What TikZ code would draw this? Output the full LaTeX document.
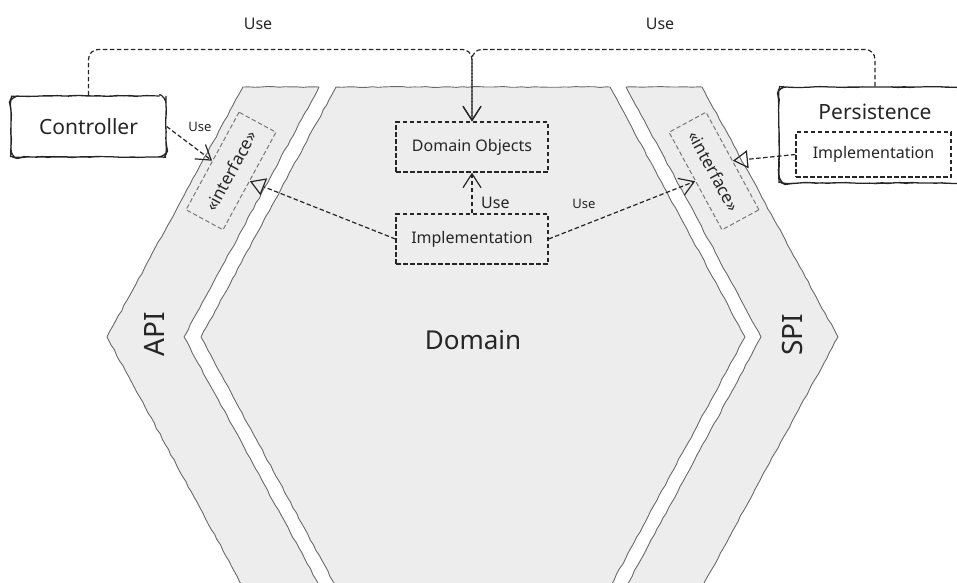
\documentclass[tikz,border=0pt]{standalone}
\usepackage{fontspec}
\setmainfont{Noto Sans}
\usetikzlibrary{arrows.meta,decorations.pathmorphing,calc}

\definecolor{bandfill}{HTML}{EDEDED}
\definecolor{bandline}{HTML}{6A6A6A}
\definecolor{ink}{HTML}{262626}
\definecolor{ifline}{HTML}{787878}

\tikzset{
  wobble/.style={decorate, decoration={random steps, segment length=6pt, amplitude=0.5pt}},
  band/.style={fill=bandfill, draw=bandline, line width=0.9pt, line join=round, wobble},
  solidbox/.style={draw=ink, line width=1.2pt, rounded corners=7pt, fill=white, wobble},
  dashbox/.style={draw=ink, line width=1.2pt, dash pattern=on 4.5pt off 2.5pt, inner sep=0pt,
    minimum width=152pt, minimum height=50pt, text=ink, font=\fontsize{16}{18}\selectfont},
  ifbox/.style={draw=ifline, line width=1pt, dash pattern=on 4.5pt off 2.5pt, inner sep=0pt,
    minimum width=111pt, minimum height=42pt, text=ink, font=\fontsize{17}{19}\selectfont},
  usearrow/.style={draw=ink, line width=1.2pt, dash pattern=on 4.5pt off 2.5pt,
    -{Straight Barb[length=14pt,width=18pt]}},
  realize/.style={draw=ink, line width=1.2pt, dash pattern=on 4.5pt off 2.5pt,
    -{Triangle[open,length=15pt,width=18pt]}},
  lbl/.style={text=ink, inner sep=0pt},
}

\begin{document}
\begin{tikzpicture}[x=1pt,y=-1pt]
\pgfmathsetseed{7}
\useasboundingbox (0,0) rectangle (957,582);
\clip (0,0) rectangle (957,582);

% the three layers of the hexagon
\path[band] (243,87) -- (319,87) -- (184,337) -- (320,587) -- (243,587) -- (107,337) -- cycle;
\path[band] (336,87) -- (610,87) -- (745,337) -- (610,587) -- (336,587) -- (201,337) -- cycle;
\path[band] (626,87) -- (702,87) -- (838,337) -- (702,587) -- (626,587) -- (761,337) -- cycle;

\node[lbl, rotate=90, font=\fontsize{28}{30}\selectfont] (api) at (154,334) {API};
\node[lbl, rotate=90, font=\fontsize{28}{30}\selectfont] (spi) at (792,335) {SPI};
\node[lbl, font=\fontsize{26}{28}\selectfont] (domain) at (473,340) {Domain};

% outer adapters
\node[solidbox, minimum width=155pt, minimum height=61pt, text=ink,
      font=\fontsize{21}{24}\selectfont] (ctrl) at (88.5,126.5) {Controller};
\node[solidbox, minimum width=192pt, minimum height=96pt] (pers) at (875,135) {};
\node[lbl, font=\fontsize{21}{24}\selectfont] (perstitle) at (875,112) {Persistence};
\node[dashbox, minimum width=155pt, minimum height=45pt] (pimpl) at (873.5,154.5) {Implementation};

% domain core
\node[dashbox] (dobj) at (472,147) {Domain Objects};
\node[dashbox] (impl) at (472,239) {Implementation};

% ports
\node[ifbox, rotate=61.5] (apiif) at (231,171) {«interface»};
\node[ifbox, rotate=-61.5] (spiif) at (714,171) {«interface»};

% dependencies
\draw[usearrow, rounded corners=10pt] (ctrl.north) -- ++(0,-46) -| (dobj.north);
\draw[usearrow, rounded corners=10pt] (pers.north) -- ++(0,-37) -| (dobj.north);
\node[lbl, font=\fontsize{16}{18}\selectfont] (usel) at (258,24) {Use};
\node[lbl, font=\fontsize{16}{18}\selectfont] (user) at (660,24) {Use};

\draw[usearrow] (ctrl.east) -- (apiif.north);
\node[lbl, font=\fontsize{13}{15}\selectfont] (usec) at (200,127) {Use};

\draw[usearrow] (impl.north) -- (dobj.south);
\node[lbl, anchor=west, font=\fontsize{16}{18}\selectfont] (usem) at (481,203) {Use};

\draw[usearrow] (impl.east) -- (spiif.south);
\node[lbl, font=\fontsize{13}{15}\selectfont] (uses) at (584,204) {Use};

\draw[realize] (impl.west) -- (apiif.south);
\draw[realize] (pimpl.west) -- (spiif.north);
\end{tikzpicture}
\end{document}
